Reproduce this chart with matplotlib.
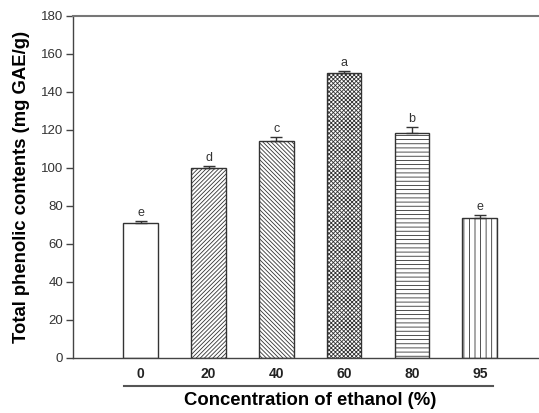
import numpy as np
import matplotlib
matplotlib.use("Agg")
import matplotlib.pyplot as plt

plt.rcParams['font.family'] = ['Liberation Sans', 'DejaVu Sans']
plt.rcParams['hatch.linewidth'] = 0.6
plt.rcParams['hatch.color'] = '#555555'

conc = ["0", "20", "40", "60", "80", "95"]
tpc = [71.0, 100.1, 114.3, 150.2, 118.2, 73.6]
err = [1.0, 1.0, 1.8, 1.0, 3.2, 1.5]
letters = ["e", "d", "c", "a", "b", "e"]
hatches = ["", "////////", "\\\\\\\\\\\\\\\\", "xxxxxxxx", "----", "|||"]

fig = plt.figure(figsize=(5.39, 4.13), dpi=100)
ax = fig.add_axes([0.1354, 0.1339, 0.8805, 0.8274])

x = np.arange(len(conc))
bars = ax.bar(x, tpc, width=0.51, color="white", edgecolor="#333333",
              linewidth=1.0, zorder=2)
for b, h in zip(bars, hatches):
    b.set_hatch(h)

ax.errorbar(x, tpc, yerr=[np.zeros(len(err)), err], fmt="none",
            ecolor="#333333", elinewidth=1.0, capsize=4, capthick=1.0, zorder=3)

for xi, v, e, l in zip(x, tpc, err, letters):
    ax.annotate(l, (xi, v + e), xytext=(0, 1.5), textcoords="offset points",
                ha="center", va="bottom", fontsize=9, color="#333333")

ax.set_xlim(-1, 6)
ax.set_ylim(0, 180)
ax.set_yticks(np.arange(0, 181, 20))
ax.set_xticks(x)
ax.set_xticklabels(conc, fontsize=10, fontweight="bold", color="#222222")
ax.tick_params(axis="x", length=0, pad=7)
ax.tick_params(axis="y", length=5, width=1, colors="#444444", pad=2,
               labelsize=9.5)
for lab in ax.get_yticklabels():
    lab.set_color("#333333")

for s in ["left", "bottom", "top", "right"]:
    ax.spines[s].set_color("#444444")
    ax.spines[s].set_linewidth(1.0)
ax.spines["top"].set_color("#777777")
ax.spines["top"].set_linewidth(1.5)

ax.plot([-0.25, 5.2], [-14.75, -14.75], color="#555555", lw=1.5,
        clip_on=False)

ax.set_ylabel("Total phenolic contents (mg GAE/g)", fontsize=13.3,
              fontweight="bold", labelpad=8)
ax.set_xlabel("Concentration of ethanol (%)", fontsize=13.3,
              fontweight="bold", va="center")
ax.xaxis.set_label_coords(0.5, -0.124)

fig.savefig("out.png", dpi=100)
